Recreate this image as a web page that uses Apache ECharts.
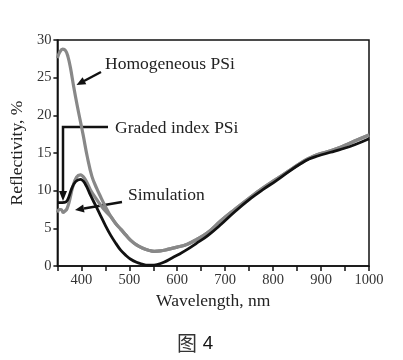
<!DOCTYPE html>
<html>
<head>
<meta charset="utf-8">
<script src="https://cdn.jsdelivr.net/npm/echarts@6/dist/echarts.min.js"></script>
<style>
html,body{margin:0;padding:0;background:#fff;}
#chart{width:403px;height:360px;}
</style>
</head>
<body>
<div id="chart"></div>
<script>
// Homogeneous PSi (gray)
var homoWl  = [350, 355, 361, 367, 372, 377, 384, 391, 398, 404, 412, 422, 432, 440, 450, 461, 472, 482, 493, 503, 515, 527, 540, 552, 565, 580, 600, 621, 640, 663, 691, 720, 754, 780, 806, 832, 858, 875, 893, 920, 942, 970, 1000];
var homoVal = [27.6, 28.4, 28.8, 28.6, 27.8, 26.4, 23.8, 21.4, 19.2, 17.3, 14.6, 11.9, 10.3, 9.2, 7.9, 6.6, 5.6, 4.9, 4.1, 3.4, 2.8, 2.4, 2.1, 1.95, 2.0, 2.2, 2.5, 2.9, 3.5, 4.4, 6.0, 7.5, 9.2, 10.4, 11.5, 12.6, 13.7, 14.3, 14.8, 15.3, 15.8, 16.6, 17.4];
// Simulation (gray)
var simWl  = [350, 354, 358, 362, 366, 370, 375, 382, 390, 398, 408, 419, 430, 440, 450, 461, 472, 482, 493, 503, 515, 527, 540, 552, 565, 580, 600, 621, 640, 663, 691, 720, 754, 780, 806, 832, 858, 875, 893, 920, 942, 970, 1000];
var simVal = [7.1, 7.5, 7.5, 7.1, 7.3, 7.6, 8.6, 10.5, 11.8, 12.1, 11.5, 10.1, 9.0, 8.1, 7.3, 6.6, 5.6, 4.9, 4.1, 3.4, 2.8, 2.4, 2.1, 1.95, 2.0, 2.2, 2.5, 2.9, 3.5, 4.4, 6.0, 7.5, 9.2, 10.4, 11.5, 12.6, 13.7, 14.3, 14.8, 15.3, 15.8, 16.6, 17.4];
// Graded index PSi (black)
var gradWl  = [350, 360, 368, 374, 380, 388, 398, 408, 419, 430, 440, 450, 461, 472, 482, 493, 503, 515, 527, 538, 547, 558, 572, 590, 605, 621, 640, 663, 691, 720, 754, 780, 806, 832, 858, 875, 893, 920, 942, 970, 1000];
var gradVal = [8.4, 8.4, 8.5, 9.2, 10.3, 11.2, 11.5, 10.9, 9.4, 8.0, 6.7, 5.4, 4.1, 3.0, 2.1, 1.4, 0.9, 0.5, 0.25, 0.1, 0.1, 0.2, 0.5, 1.1, 1.6, 2.2, 3.0, 4.0, 5.5, 7.2, 9.0, 10.2, 11.3, 12.5, 13.6, 14.2, 14.6, 15.1, 15.5, 16.1, 16.9];

var xTicks = [400, 500, 600, 700, 800, 900, 1000];
var yTicks = [0, 5, 10, 15, 20, 25, 30];

function pairs(xs, ys){ return xs.map(function(x,i){ return [x, ys[i]]; }); }

var serif = 'Liberation Serif';
var chart = echarts.init(document.getElementById('chart'), null, {renderer:'canvas'});
chart.setOption({
  animation:false,
  backgroundColor:'#fff',
  grid:{left:57, right:34, top:40, bottom:94, show:true, borderColor:'#111', borderWidth:1.5, backgroundColor:'transparent'},
  xAxis:{
    type:'value', min:350, max:1000, interval:50,
    name:'Wavelength, nm', nameLocation:'middle', nameGap:25,
    nameTextStyle:{fontFamily:serif, fontSize:17.5, color:'#222'},
    axisLine:{lineStyle:{color:'#111', width:1.5}},
    axisTick:{show:true, length:5, lineStyle:{color:'#111', width:1.5}},
    axisLabel:{fontFamily:serif, fontSize:14.5, color:'#333', margin:7,
      formatter:function(v){ return xTicks.indexOf(v) >= 0 ? String(v) : ''; }},
    splitLine:{show:false}
  },
  yAxis:{
    type:'value', min:0, max:30, interval:5,
    name:'Reflectivity, %', nameLocation:'middle', nameGap:24, nameRotate:90,
    nameTextStyle:{fontFamily:serif, fontSize:17.5, color:'#222'},
    axisLine:{show:true, lineStyle:{color:'#111', width:1.5}},
    axisTick:{show:true, length:4, lineStyle:{color:'#111', width:1.5}},
    axisLabel:{fontFamily:serif, fontSize:14.5, color:'#333', margin:6,
      formatter:function(v){ return yTicks.indexOf(v) >= 0 ? String(v) : ''; }},
    splitLine:{show:false}
  },
  series:[
    {type:'line', name:'Homogeneous PSi', data:pairs(homoWl, homoVal), smooth:0.4, showSymbol:false,
     lineStyle:{color:'#888', width:3.2}},
    {type:'line', name:'Simulation', data:pairs(simWl, simVal), smooth:0.4, showSymbol:false,
     lineStyle:{color:'#888', width:3.2}},
    {type:'line', name:'Graded index PSi', data:pairs(gradWl, gradVal), smooth:0.4, showSymbol:false,
     lineStyle:{color:'#111', width:2.8}}
  ],
  graphic:[
    {type:'text', left:105, top:55, style:{text:'Homogeneous PSi', font:'17.5px "Liberation Serif"', fill:'#222'}},
    {type:'text', left:115, top:119, style:{text:'Graded index PSi', font:'17.5px "Liberation Serif"', fill:'#222'}},
    {type:'text', left:128, top:186, style:{text:'Simulation', font:'17.5px "Liberation Serif"', fill:'#222'}},
    // arrows
    {type:'polyline', shape:{points:[[101,72],[84,81]]}, style:{stroke:'#111', lineWidth:2.5, fill:null}},
    {type:'polygon', shape:{points:[[76.5,85],[86.3,84.3],[82.6,77.2]]}, style:{fill:'#111'}},
    {type:'polyline', shape:{points:[[108,127],[63,127],[63,192]]}, style:{stroke:'#111', lineWidth:2.5, fill:null}},
    {type:'polygon', shape:{points:[[63,201],[59,191],[67,191]]}, style:{fill:'#111'}},
    {type:'polyline', shape:{points:[[122,202],[84,208.5]]}, style:{stroke:'#111', lineWidth:2.5, fill:null}},
    {type:'polygon', shape:{points:[[75,210],[84.5,212.4],[83.2,204.5]]}, style:{fill:'#111'}},
    {type:'text', style:{x:187, y:343, text:'图', font:'20px "Noto Sans CJK SC"', fill:'#333', textAlign:'center', textVerticalAlign:'middle'}},
    {type:'text', style:{x:208, y:344, text:'4', font:'18px "Noto Sans"', fill:'#111', textAlign:'center', textVerticalAlign:'middle'}}
  ]
});
</script>
</body>
</html>
